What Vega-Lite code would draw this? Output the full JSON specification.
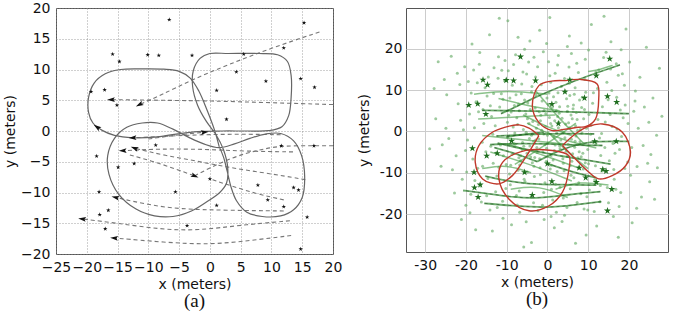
{
 "$schema": "https://vega.github.io/schema/vega-lite/v6.json",
 "padding": {"left": 2, "top": 0, "right": 5, "bottom": 0},
 "background": "white",
 "spacing": 13,
 "config": {
  "font": "DejaVu Sans",
  "view": {"stroke": "#555", "strokeWidth": 1},
  "axis": {"labelFont": "DejaVu Sans", "labelFontSize": 14, "labelColor": "#111", "titleFont": "DejaVu Sans", "titleFontSize": 14, "titleFontWeight": "normal", "titleColor": "#111", "domain": false, "ticks": false, "labelPadding": 6, "labelOverlap": false, "labelBound": false, "labelFlush": false, "titlePadding": 3},
  "title": {"font": "Liberation Serif", "fontSize": 19, "fontWeight": "normal", "orient": "bottom", "color": "#111"}
 },
 "datasets": {
  "landmarks": [
   {"x":-6.6,"y":18.1},{"x":15.3,"y":17.6},{"x":-15.8,"y":12.5},{"x":-14.7,"y":11.3},{"x":-10.1,"y":12.4},{"x":-8.3,"y":12.3},{"x":-2.9,"y":12.3},{"x":5.5,"y":12.5},{"x":12.0,"y":13.5},{"x":4.3,"y":9.6},{"x":9.1,"y":8.1},{"x":14.75,"y":8.5},{"x":17.0,"y":7.1},{"x":1.1,"y":6.6},{"x":-19.3,"y":6.4},{"x":-17.1,"y":6.7},{"x":-15.1,"y":4.2},{"x":2.7,"y":1.9},{"x":-8.8,"y":-2.3},{"x":11.6,"y":-2.4},{"x":16.9,"y":-2.4},{"x":-18.4,"y":-4.1},{"x":-14.9,"y":-5.9},{"x":-12.3,"y":-5.3},{"x":0.0,"y":-7.8},{"x":-18.0,"y":-9.9},{"x":-5.6,"y":-9.9},{"x":7.8,"y":-8.8},{"x":9.4,"y":-11.2},{"x":13.6,"y":-9.2},{"x":14.4,"y":-9.6},{"x":1.1,"y":-12.1},{"x":12.0,"y":-12.3},{"x":-16.5,"y":-12.9},{"x":-17.9,"y":-13.6},{"x":15.8,"y":-14.0},{"x":-17.0,"y":-15.9},{"x":-3.7,"y":-15.4},{"x":14.75,"y":-19.2}
  ],
  "loop": [
   {"i":1,"x":1.5,"y":-2.5},{"i":2,"x":0.7,"y":0.3},{"i":3,"x":-0.5,"y":3.5},{"i":4,"x":-1.8,"y":6.5},{"i":5,"x":-3.2,"y":8.6},{"i":6,"x":-5,"y":9.7},{"i":7,"x":-7.5,"y":10.05},{"i":8,"x":-11,"y":10.1},{"i":9,"x":-14.5,"y":10},{"i":10,"x":-17,"y":9.3},{"i":11,"x":-18.8,"y":7.8},{"i":12,"x":-19.7,"y":5.5},{"i":13,"x":-19.7,"y":3},{"i":14,"x":-19,"y":1.3},{"i":15,"x":-17.5,"y":0.1},{"i":16,"x":-15.5,"y":-0.7},{"i":17,"x":-12.5,"y":-1.1},{"i":18,"x":-9,"y":-1},{"i":19,"x":-5.5,"y":-0.5},{"i":20,"x":-2,"y":-0.1},{"i":21,"x":2,"y":0},{"i":22,"x":6,"y":0},{"i":23,"x":9.5,"y":0.05},{"i":24,"x":11.7,"y":0.7},{"i":25,"x":12.8,"y":2.5},{"i":26,"x":13.2,"y":5.5},{"i":27,"x":13.2,"y":9},{"i":28,"x":12.6,"y":11.3},{"i":29,"x":11,"y":12.4},{"i":30,"x":8,"y":12.6},{"i":31,"x":3,"y":12.6},{"i":32,"x":0,"y":12.6},{"i":33,"x":-1.6,"y":11.8},{"i":34,"x":-2.7,"y":9.8},{"i":35,"x":-2.8,"y":7.2},{"i":36,"x":-2,"y":4.2},{"i":37,"x":-0.6,"y":1.6},{"i":38,"x":1,"y":-0.6},{"i":39,"x":2.2,"y":-3},{"i":40,"x":2.9,"y":-6},{"i":41,"x":2.7,"y":-8.5},{"i":42,"x":1.6,"y":-10},{"i":43,"x":-0.5,"y":-11.5},{"i":44,"x":-3,"y":-13},{"i":45,"x":-6,"y":-13.9},{"i":46,"x":-9,"y":-13.8},{"i":47,"x":-12,"y":-12.7},{"i":48,"x":-14.8,"y":-10.3},{"i":49,"x":-16.4,"y":-7},{"i":50,"x":-16.6,"y":-4},{"i":51,"x":-15.5,"y":-1.2},{"i":52,"x":-13.5,"y":0.6},{"i":53,"x":-11,"y":1.3},{"i":54,"x":-8.5,"y":1.3},{"i":55,"x":-6,"y":0.3},{"i":56,"x":-3.5,"y":-1},{"i":57,"x":-1,"y":-2.1},{"i":58,"x":1.5,"y":-2.7},{"i":59,"x":4,"y":-2.1},{"i":60,"x":6.5,"y":-1.2},{"i":61,"x":9,"y":-0.5},{"i":62,"x":11.5,"y":-0.4},{"i":63,"x":13.6,"y":-1.6},{"i":64,"x":14.9,"y":-4},{"i":65,"x":15.4,"y":-7.5},{"i":66,"x":15,"y":-10.8},{"i":67,"x":13.6,"y":-12.8},{"i":68,"x":11.5,"y":-13.8},{"i":69,"x":8.5,"y":-13.9},{"i":70,"x":6,"y":-13.2},{"i":71,"x":4.3,"y":-11.3},{"i":72,"x":3.4,"y":-9},{"i":73,"x":2.8,"y":-6.5},{"i":74,"x":2.2,"y":-4.2},{"i":75,"x":1.5,"y":-2.5}
  ],
  "traj": [
   {"id":"T1","i":1,"x":17.8,"y":16.1},{"id":"T1","i":2,"x":10,"y":13.5},{"id":"T1","i":3,"x":3,"y":10.8},{"id":"T1","i":4,"x":-3,"y":8.3},{"id":"T1","i":5,"x":-8,"y":5.8},{"id":"T1","i":6,"x":-11.4,"y":4.3},
   {"id":"T2","i":1,"x":20,"y":4.3},{"id":"T2","i":2,"x":10,"y":4.6},{"id":"T2","i":3,"x":0,"y":4.9},{"id":"T2","i":4,"x":-8,"y":5},{"id":"T2","i":5,"x":-16,"y":5.1},
   {"id":"T3","i":1,"x":11.5,"y":-0.6},{"id":"T3","i":2,"x":5,"y":-0.5},{"id":"T3","i":3,"x":-2,"y":-0.6},{"id":"T3","i":4,"x":-8,"y":-0.9},{"id":"T3","i":5,"x":-12.5,"y":-1.1},
   {"id":"T4","i":1,"x":20,"y":-2.4},{"id":"T4","i":2,"x":16.9,"y":-2.4},{"id":"T4","i":3,"x":11.6,"y":-2.4},{"id":"T4","i":4,"x":8.9,"y":-2.9},{"id":"T4","i":5,"x":6.2,"y":-3.5},{"id":"T4","i":6,"x":3,"y":-4.6},{"id":"T4","i":7,"x":0,"y":-6},{"id":"T4","i":8,"x":-2.5,"y":-7.3},
   {"id":"T5","i":1,"x":13.5,"y":-3.4},{"id":"T5","i":2,"x":6,"y":-3.3},{"id":"T5","i":3,"x":0,"y":-3},{"id":"T5","i":4,"x":-6,"y":-2.9},{"id":"T5","i":5,"x":-10,"y":-3},{"id":"T5","i":6,"x":-14.1,"y":-3.2},
   {"id":"T6","i":1,"x":-13,"y":-3.9},{"id":"T6","i":2,"x":-9,"y":-5},{"id":"T6","i":3,"x":-5.5,"y":-6.2},{"id":"T6","i":4,"x":-2.5,"y":-7.3},
   {"id":"T7","i":1,"x":15.5,"y":-7.9},{"id":"T7","i":2,"x":8.9,"y":-6.8},{"id":"T7","i":3,"x":3.4,"y":-6},{"id":"T7","i":4,"x":-2,"y":-4.9},{"id":"T7","i":5,"x":-7.3,"y":-4},{"id":"T7","i":6,"x":-12.2,"y":-2.8},
   {"id":"T8","i":1,"x":12,"y":-11.2},{"id":"T8","i":2,"x":7.5,"y":-10.2},{"id":"T8","i":3,"x":3.4,"y":-8.9},{"id":"T8","i":4,"x":0,"y":-7.8},
   {"id":"T9","i":1,"x":12,"y":-13},{"id":"T9","i":2,"x":3,"y":-12.9},{"id":"T9","i":3,"x":-5,"y":-12.7},{"id":"T9","i":4,"x":-10,"y":-12},{"id":"T9","i":5,"x":-15.3,"y":-10.8},
   {"id":"T10","i":1,"x":13,"y":-14.6},{"id":"T10","i":2,"x":5,"y":-15.3},{"id":"T10","i":3,"x":-2,"y":-16.2},{"id":"T10","i":4,"x":-8,"y":-16},{"id":"T10","i":5,"x":-15,"y":-15},{"id":"T10","i":6,"x":-20.7,"y":-14.3},
   {"id":"T11","i":1,"x":13.2,"y":-17},{"id":"T11","i":2,"x":6.7,"y":-17.8},{"id":"T11","i":3,"x":0,"y":-18.5},{"id":"T11","i":4,"x":-7.5,"y":-18.1},{"id":"T11","i":5,"x":-15.5,"y":-17.4},
   {"id":"T12","i":1,"x":-10,"y":-1.3},{"id":"T12","i":2,"x":-5,"y":-0.6},{"id":"T12","i":3,"x":-0.9,"y":-0.2}
  ],
  "tracks": [
   {"id":"S1","i":1,"x":-17,"y":3},{"id":"S1","i":2,"x":-8,"y":3.5},{"id":"S1","i":3,"x":2,"y":4},
   {"id":"S2","i":1,"x":-16,"y":-1},{"id":"S2","i":2,"x":-6,"y":-2},{"id":"S2","i":3,"x":4,"y":-3},
   {"id":"S3","i":1,"x":-12,"y":8},{"id":"S3","i":2,"x":-4,"y":6},{"id":"S3","i":3,"x":3,"y":5},
   {"id":"S4","i":1,"x":-10,"y":-3},{"id":"S4","i":2,"x":0,"y":-6},{"id":"S4","i":3,"x":8,"y":-9},
   {"id":"S5","i":1,"x":-5,"y":2},{"id":"S5","i":2,"x":3,"y":-2},{"id":"S5","i":3,"x":12,"y":-4},
   {"id":"S6","i":1,"x":-14,"y":-5},{"id":"S6","i":2,"x":-4,"y":-8},{"id":"S6","i":3,"x":6,"y":-12},
   {"id":"S7","i":1,"x":-3,"y":10},{"id":"S7","i":2,"x":3,"y":3},{"id":"S7","i":3,"x":9,"y":-3},
   {"id":"S8","i":1,"x":-8,"y":-8},{"id":"S8","i":2,"x":0,"y":-3},{"id":"S8","i":3,"x":7,"y":2},
   {"id":"S9","i":1,"x":-18,"y":9},{"id":"S9","i":2,"x":-10,"y":10},{"id":"S9","i":3,"x":0,"y":9},
   {"id":"S10","i":1,"x":2,"y":-14},{"id":"S10","i":2,"x":8,"y":-12},{"id":"S10","i":3,"x":15,"y":-13},
   {"id":"S11","i":1,"x":-9,"y":-14},{"id":"S11","i":2,"x":-2,"y":-13},{"id":"S11","i":3,"x":5,"y":-16},
   {"id":"S12","i":1,"x":10,"y":14.5},{"id":"S12","i":2,"x":13,"y":15},{"id":"S12","i":3,"x":16,"y":16},
   {"id":"S13","i":1,"x":-16,"y":-9},{"id":"S13","i":2,"x":-10,"y":-8},{"id":"S13","i":3,"x":-4,"y":-10},
   {"id":"S14","i":1,"x":0,"y":0},{"id":"S14","i":2,"x":6,"y":-6},{"id":"S14","i":3,"x":10,"y":-9},
   {"id":"S15","i":1,"x":-6,"y":4},{"id":"S15","i":2,"x":0,"y":1},{"id":"S15","i":3,"x":6,"y":-1}
  ],
  "arrows": [
   {"x":-11.4,"y":4.3,"dir":243},{"x":-16,"y":5.1,"dir":269},{"x":-12.5,"y":-1.1,"dir":268},{"x":-14.1,"y":-3.2,"dir":268},{"x":-12.2,"y":-2.8,"dir":290},{"x":-2.5,"y":-7.3,"dir":112},{"x":-15.3,"y":-10.8,"dir":283},{"x":-20.7,"y":-14.3,"dir":277},{"x":-15.5,"y":-17.4,"dir":275},{"x":-0.9,"y":-0.2,"dir":85},{"x":-18.3,"y":0.6,"dir":305}
  ],
  "redloops": [
   {"id":"A","i":1,"x":4.5,"y":12.3},{"id":"A","i":2,"x":8,"y":12.6},{"id":"A","i":3,"x":12.2,"y":11.5},{"id":"A","i":4,"x":12.6,"y":7.9},{"id":"A","i":5,"x":11.8,"y":3},{"id":"A","i":6,"x":9.5,"y":1.2},{"id":"A","i":7,"x":7.7,"y":1},{"id":"A","i":8,"x":4,"y":0.5},{"id":"A","i":9,"x":1.2,"y":0.2},{"id":"A","i":10,"x":-2.1,"y":2.2},{"id":"A","i":11,"x":-3.7,"y":6.3},{"id":"A","i":12,"x":-2.1,"y":11.1},{"id":"A","i":13,"x":1,"y":12.2},{"id":"A","i":14,"x":4.5,"y":12.3},
   {"id":"B","i":1,"x":3.7,"y":-3.4},{"id":"B","i":2,"x":7,"y":-0.5},{"id":"B","i":3,"x":10,"y":1.2},{"id":"B","i":4,"x":13.5,"y":1.8},{"id":"B","i":5,"x":18.4,"y":-0.2},{"id":"B","i":6,"x":20.4,"y":-5},{"id":"B","i":7,"x":19.2,"y":-8.3},{"id":"B","i":8,"x":15.9,"y":-10.7},{"id":"B","i":9,"x":12.6,"y":-11.5},{"id":"B","i":10,"x":10.2,"y":-9.9},{"id":"B","i":11,"x":6.9,"y":-6.7},{"id":"B","i":12,"x":3.7,"y":-3.4},
   {"id":"C","i":1,"x":-2.1,"y":-1},{"id":"C","i":2,"x":-4.5,"y":0.8},{"id":"C","i":3,"x":-7,"y":1.6},{"id":"C","i":4,"x":-10.5,"y":1},{"id":"C","i":5,"x":-13.5,"y":-0.2},{"id":"C","i":6,"x":-16.8,"y":-3.4},{"id":"C","i":7,"x":-17.7,"y":-7.5},{"id":"C","i":8,"x":-15.9,"y":-11.5},{"id":"C","i":9,"x":-11.9,"y":-12.7},{"id":"C","i":10,"x":-8.6,"y":-10.7},{"id":"C","i":11,"x":-5.5,"y":-6.5},{"id":"C","i":12,"x":-2.1,"y":-1},
   {"id":"D","i":1,"x":1.2,"y":-4.6},{"id":"D","i":2,"x":-5.3,"y":-4.6},{"id":"D","i":3,"x":-11,"y":-7.5},{"id":"D","i":4,"x":-11.9,"y":-11.5},{"id":"D","i":5,"x":-9.4,"y":-16.4},{"id":"D","i":6,"x":-4.5,"y":-19.2},{"id":"D","i":7,"x":0.4,"y":-18},{"id":"D","i":8,"x":3.7,"y":-14.7},{"id":"D","i":9,"x":5.3,"y":-9.1},{"id":"D","i":10,"x":5.3,"y":-5.9},{"id":"D","i":11,"x":1.2,"y":-4.6}
  ],
  "cloud": [
   {"x":-9.2,"y":8.1},{"x":-7.5,"y":3.3},{"x":-6.1,"y":-2.7},{"x":-4.8,"y":6.9},{"x":-3.3,"y":-8.4},{"x":-2.2,"y":1.7},{"x":-1.1,"y":-4.9},{"x":0.4,"y":9.3},{"x":1.6,"y":-1.2},{"x":2.9,"y":4.4},{"x":3.8,"y":-6.6},{"x":5.2,"y":2.1},{"x":6.7,"y":-3.8},{"x":7.9,"y":7.6},{"x":8.8,"y":-9.1},{"x":9.6,"y":0.8},
   {"x":-8.7,"y":-5.6},{"x":-7.2,"y":-9.4},{"x":-5.9,"y":0.5},{"x":-4.1,"y":-6.2},{"x":-2.8,"y":8.8},{"x":-1.6,"y":3.9},{"x":-0.3,"y":-7.3},{"x":1.2,"y":5.8},{"x":2.4,"y":-9.7},{"x":3.5,"y":0.3},{"x":4.7,"y":7.9},{"x":5.9,"y":-1.9},{"x":7.1,"y":4.6},{"x":8.3,"y":-6.1},{"x":9.4,"y":9.5},
   {"x":-9.8,"y":-1.4},{"x":-8.1,"y":6.3},{"x":-6.6,"y":-7.1},{"x":-5.3,"y":4.2},{"x":-3.9,"y":-0.9},{"x":-2.5,"y":-5.1},{"x":-1.3,"y":7.4},{"x":0.1,"y":-2.8},{"x":1.8,"y":2.6},{"x":3.1,"y":-4.2},{"x":4.4,"y":9.8},{"x":5.6,"y":-8.3},{"x":6.9,"y":1.4},{"x":8.0,"y":-2.5},{"x":9.1,"y":5.3},
   {"x":-9.5,"y":3.9},{"x":-7.9,"y":-3.1},{"x":-6.4,"y":9.1},{"x":-4.9,"y":-9.8},{"x":-3.6,"y":2.4},{"x":-2.1,"y":-1.8},{"x":-0.8,"y":5.1},{"x":0.7,"y":-9.1},{"x":2.1,"y":7.1},{"x":3.3,"y":-2.1},{"x":4.9,"y":4.9},{"x":6.2,"y":-5.4},{"x":7.4,"y":0.2},{"x":8.6,"y":8.3},{"x":9.9,"y":-4.4},
   {"x":-8.4,"y":1.1},{"x":-7.0,"y":-6.4},{"x":-5.6,"y":7.6},{"x":-4.3,"y":-3.5},{"x":-3.0,"y":5.7},{"x":-1.8,"y":-8.8},{"x":-0.5,"y":1.2},{"x":0.9,"y":-5.8},{"x":2.6,"y":9.4},{"x":3.9,"y":-7.7},{"x":5.4,"y":0.9},{"x":6.4,"y":6.4},{"x":7.7,"y":-8.7},{"x":8.9,"y":3.1},
   {"x":-9.0,"y":-8.2},{"x":-6.9,"y":5.0},{"x":-5.0,"y":-5.3},{"x":-3.4,"y":-2.4},{"x":-2.0,"y":4.8},{"x":-0.9,"y":-0.6},{"x":0.5,"y":3.4},{"x":1.4,"y":-6.9},{"x":2.7,"y":0.9},{"x":4.1,"y":-9.5},{"x":5.0,"y":6.1},{"x":6.0,"y":-7.2},{"x":7.3,"y":2.9},{"x":8.5,"y":-0.4},
   {"x":-7.7,"y":8.9},{"x":-5.2,"y":-0.2},{"x":-3.7,"y":-7.6},{"x":-1.4,"y":0.3},{"x":0.2,"y":6.6},{"x":1.9,"y":-3.3},{"x":3.6,"y":3.2},{"x":4.6,"y":-4.8},{"x":6.6,"y":9.0},{"x":7.8,"y":-4.9},{"x":9.3,"y":-7.6},
   {"x":-8.9,"y":4.7},{"x":-6.2,"y":-4.4},{"x":-4.5,"y":1.9},{"x":-2.6,"y":-3.9},{"x":-0.2,"y":-4.1},{"x":1.1,"y":1.3},{"x":2.3,"y":-0.4},{"x":3.0,"y":6.0},{"x":4.3,"y":-1.5},{"x":5.8,"y":4.0},{"x":7.0,"y":-1.1},
   {"x":-19.1,"y":4.2},{"x":-18.3,"y":-6.7},{"x":-17.2,"y":11.8},{"x":-16.4,"y":-13.2},{"x":-15.6,"y":1.9},{"x":-14.8,"y":8.6},{"x":-13.9,"y":-3.6},{"x":-13.1,"y":15.4},{"x":-12.4,"y":-10.8},{"x":-11.7,"y":5.9},{"x":-11.0,"y":-16.9},{"x":-10.5,"y":12.3},
   {"x":10.3,"y":-14.2},{"x":11.1,"y":6.8},{"x":11.9,"y":-3.0},{"x":12.6,"y":14.9},{"x":13.4,"y":-9.6},{"x":14.2,"y":2.3},{"x":15.0,"y":-17.3},{"x":15.8,"y":9.9},{"x":16.6,"y":-5.3},{"x":17.4,"y":13.6},{"x":18.2,"y":-1.2},{"x":19.1,"y":6.4},
   {"x":-9.6,"y":14.7},{"x":-7.8,"y":18.6},{"x":-6.3,"y":11.5},{"x":-4.6,"y":16.8},{"x":-2.9,"y":13.2},{"x":-1.0,"y":19.3},{"x":0.8,"y":11.9},{"x":2.5,"y":16.1},{"x":4.2,"y":12.8},{"x":5.9,"y":18.9},{"x":7.6,"y":14.3},{"x":9.3,"y":17.5},
   {"x":-9.1,"y":-12.9},{"x":-7.4,"y":-17.8},{"x":-5.7,"y":-11.6},{"x":-4.0,"y":-15.9},{"x":-2.3,"y":-19.2},{"x":-0.6,"y":-12.4},{"x":1.3,"y":-16.6},{"x":3.1,"y":-13.5},{"x":4.8,"y":-18.4},{"x":6.5,"y":-11.2},{"x":8.2,"y":-15.1},{"x":9.9,"y":-19.0},
   {"x":-19.6,"y":-2.1},{"x":-18.7,"y":9.3},{"x":-17.8,"y":-11.9},{"x":-16.9,"y":4.8},{"x":-15.9,"y":-8.4},{"x":-14.5,"y":13.2},{"x":-13.4,"y":-0.7},{"x":-12.7,"y":-14.6},{"x":-11.3,"y":9.1},{"x":-10.8,"y":-5.9},
   {"x":10.7,"y":1.5},{"x":11.6,"y":-11.7},{"x":12.3,"y":10.4},{"x":13.1,"y":-5.8},{"x":13.8,"y":17.9},{"x":14.7,"y":-13.6},{"x":15.4,"y":4.1},{"x":16.3,"y":-9.2},{"x":17.1,"y":0.6},{"x":18.0,"y":-14.8},{"x":18.9,"y":11.2},{"x":19.7,"y":-7.4},
   {"x":-8.3,"y":16.2},{"x":-3.8,"y":10.9},{"x":1.9,"y":14.1},{"x":6.8,"y":10.6},{"x":-6.9,"y":-14.4},{"x":-1.7,"y":-10.5},{"x":2.2,"y":-19.6},{"x":7.3,"y":-17.2},
   {"x":-18.1,"y":14.9},{"x":-16.2,"y":-17.1},{"x":16.9,"y":16.4},{"x":17.6,"y":-18.2},{"x":-14.1,"y":-19.0},{"x":14.4,"y":19.2},{"x":-12.0,"y":18.1},{"x":11.5,"y":-19.4},
   {"x":-19.8,"y":-9.8},{"x":-17.5,"y":7.2},{"x":-15.1,"y":-4.9},{"x":-13.7,"y":3.6},{"x":-11.9,"y":-8.7},{"x":10.1,"y":-7.8},{"x":12.8,"y":-1.6},{"x":14.9,"y":7.7},{"x":16.1,"y":-2.9},{"x":18.6,"y":3.3},
   {"x":-5.1,"y":13.9},{"x":0.3,"y":16.9},{"x":5.3,"y":15.6},{"x":-3.4,"y":-17.3},{"x":1.0,"y":-14.0},{"x":5.6,"y":-13.9},
   {"x":-27.4,"y":3.1},{"x":-26.1,"y":-8.4},{"x":-25.3,"y":12.6},{"x":-24.2,"y":-1.7},{"x":-23.6,"y":18.2},{"x":-22.8,"y":-14.9},{"x":-21.9,"y":6.7},{"x":-21.1,"y":-21.3},{"x":-20.6,"y":0.4},{"x":-20.3,"y":15.7},
   {"x":20.4,"y":-10.6},{"x":21.2,"y":4.9},{"x":21.9,"y":-18.6},{"x":22.7,"y":13.1},{"x":23.5,"y":-3.4},{"x":24.3,"y":20.4},{"x":25.1,"y":-12.2},{"x":25.9,"y":8.1},{"x":26.8,"y":-0.9},{"x":27.5,"y":15.3},
   {"x":-14.2,"y":23.4},{"x":-9.7,"y":26.8},{"x":-4.3,"y":21.9},{"x":0.6,"y":27.6},{"x":5.4,"y":23.1},{"x":10.8,"y":25.9},{"x":15.6,"y":21.7},{"x":-18.5,"y":21.2},{"x":19.3,"y":24.8},{"x":-1.9,"y":24.5},
   {"x":-13.5,"y":-24.1},{"x":-8.8,"y":-22.6},{"x":-3.9,"y":-26.9},{"x":1.7,"y":-23.3},{"x":6.9,"y":-27.1},{"x":12.1,"y":-22.9},{"x":17.4,"y":-25.6},{"x":-17.6,"y":-23.8},{"x":20.8,"y":-22.1},{"x":-0.8,"y":-21.3},
   {"x":-22.4,"y":-5.9},{"x":-24.7,"y":8.9},{"x":-21.5,"y":11.4},{"x":22.3,"y":0.8},{"x":24.6,"y":-7.7},{"x":21.6,"y":9.8},{"x":-20.9,"y":-11.6},{"x":23.1,"y":-15.9},{"x":-7.2,"y":22.8},{"x":8.3,"y":21.4},{"x":3.6,"y":-21.8},{"x":-10.9,"y":-21.0},
   {"x":-28.9,"y":-4.2},{"x":-26.8,"y":16.9},{"x":28.1,"y":3.7},{"x":26.3,"y":-16.4},{"x":-11.8,"y":27.4},{"x":13.9,"y":27.9},{"x":-5.8,"y":-28.0},{"x":9.5,"y":-25.1},
   {"x":-21.3,"y":2.7},{"x":-20.1,"y":-4.6},{"x":-19.4,"y":12.1},{"x":-18.8,"y":-15.2},{"x":-17.9,"y":0.9},{"x":-17.1,"y":-8.9},{"x":-16.7,"y":16.3},{"x":-16.0,"y":-2.6},{"x":-15.3,"y":10.6},{"x":-14.6,"y":-11.4},{"x":-14.0,"y":6.2},{"x":-13.3,"y":-7.7},{"x":-12.8,"y":1.4},{"x":-12.1,"y":12.9},{"x":-11.5,"y":-3.3},{"x":-10.9,"y":7.8},{"x":-10.2,"y":-13.8},{"x":-9.8,"y":2.2},{"x":-9.3,"y":-10.3},{"x":-8.6,"y":11.2},{"x":-8.0,"y":-0.4},{"x":-7.6,"y":-15.5},{"x":-7.1,"y":6.6},{"x":-6.5,"y":-5.9},{"x":-6.0,"y":14.4},{"x":-5.5,"y":-12.1},{"x":-4.9,"y":3.1},{"x":-4.4,"y":-1.7},{"x":-3.9,"y":9.6},{"x":-3.2,"y":-10.9},{"x":-2.7,"y":0.8},{"x":-2.4,"y":15.7},{"x":-1.9,"y":-6.6},{"x":-1.5,"y":11.3},{"x":-0.9,"y":-14.8},{"x":-0.4,"y":4.3},{"x":0.0,"y":-0.9},{"x":0.6,"y":13.5},{"x":1.0,"y":-8.2},{"x":1.5,"y":8.4},{"x":2.0,"y":-12.8},{"x":2.5,"y":3.6},{"x":3.0,"y":-3.5},{"x":3.4,"y":10.9},{"x":3.9,"y":-16.1},{"x":4.5,"y":1.8},{"x":4.9,"y":-6.0},{"x":5.4,"y":11.7},{"x":5.8,"y":-10.6},{"x":6.3,"y":5.5},{"x":6.8,"y":-2.4},{"x":7.2,"y":16.5},{"x":7.7,"y":-12.4},{"x":8.1,"y":0.5},{"x":8.7,"y":-5.3},{"x":9.2,"y":12.6},{"x":9.7,"y":-15.8},{"x":10.2,"y":4.1},{"x":10.6,"y":-0.7},{"x":11.3,"y":9.4},{"x":11.8,"y":-8.3},{"x":12.4,"y":2.9},{"x":13.0,"y":-13.1},{"x":13.5,"y":6.0},{"x":14.1,"y":-3.9},{"x":14.6,"y":11.9},{"x":15.2,"y":-7.1},{"x":15.9,"y":1.2},{"x":16.4,"y":-11.6},{"x":17.0,"y":8.3},{"x":17.7,"y":-4.4},{"x":18.4,"y":14.0},{"x":19.0,"y":-9.0},{"x":19.8,"y":1.9},{"x":20.7,"y":-3.9},{"x":21.5,"y":7.4},
   {"x":-12.3,"y":-18.4},{"x":-6.8,"y":-19.6},{"x":-1.2,"y":-17.9},{"x":4.2,"y":-20.3},{"x":9.0,"y":-18.8},{"x":-10.4,"y":17.2},{"x":-5.6,"y":19.9},{"x":-0.2,"y":21.3},{"x":4.9,"y":20.6},{"x":10.1,"y":19.7},
   {"x":-7.3,"y":1.7},{"x":-5.8,"y":-3.6},{"x":-4.2,"y":5.3},{"x":-2.9,"y":-2.1},{"x":-1.7,"y":2.6},{"x":-0.6,"y":-3.2},{"x":0.8,"y":1.9},{"x":1.7,"y":-4.6},{"x":2.8,"y":2.3},{"x":4.0,"y":-0.2},{"x":5.1,"y":-3.1},{"x":6.1,"y":3.1},{"x":7.5,"y":-6.4},{"x":-8.2,"y":-2.9},{"x":-6.8,"y":-8.1},{"x":-3.1,"y":-6.3},{"x":-0.1,"y":8.1},{"x":2.2,"y":5.0},{"x":5.5,"y":8.7},{"x":8.4,"y":5.8},
   {"x":-23.3,"y":-9.3},{"x":-22.1,"y":14.1},{"x":-25.8,"y":-3.2},{"x":-20.0,"y":-17.9},{"x":23.8,"y":5.9},{"x":22.0,"y":-8.5},{"x":20.2,"y":16.8},{"x":25.4,"y":-5.6},{"x":-16.6,"y":19.1},{"x":16.2,"y":-20.6},{"x":-19.0,"y":-19.7},{"x":18.1,"y":19.8},
   {"x":-15.8,"y":5.3},{"x":-14.9,"y":-15.6},{"x":-13.2,"y":9.2},{"x":-12.6,"y":-5.2},{"x":-11.2,"y":14.8},{"x":-10.1,"y":-8.0},{"x":11.9,"y":14.4},{"x":12.9,"y":-17.0},{"x":13.3,"y":-0.5},{"x":15.5,"y":15.1},{"x":16.8,"y":-14.0},{"x":17.9,"y":5.2},
   {"x":-3.3,"y":18.0},{"x":2.7,"y":18.4},{"x":-5.2,"y":-21.9},{"x":0.9,"y":-20.6},{"x":-24.9,"y":0.8},{"x":24.9,"y":2.2},{"x":-27.8,"y":10.4},{"x":27.0,"y":-8.8}
  ]
 },
 "hconcat": [
  {
   "width": 277, "height": 246,
   "title": {"text": "(a)", "orient": "bottom", "offset": 1},
   "encoding": {
    "x": {"field": "x", "type": "quantitative", "scale": {"domain": [-25, 20], "nice": false, "zero": false},
          "axis": {"title": "x (meters)", "values": [-25,-20,-15,-10,-5,0,5,10,15,20], "grid": true, "gridColor": "#888", "gridDash": [1,2], "gridWidth": 0.8}},
    "y": {"field": "y", "type": "quantitative", "scale": {"domain": [-20, 20], "nice": false, "zero": false},
          "axis": {"title": "y (meters)", "values": [-20,-15,-10,-5,0,5,10,15,20], "grid": true, "gridColor": "#888", "gridDash": [1,2], "gridWidth": 0.8}}
   },
   "layer": [
    {"data": {"name": "traj"}, "mark": {"type": "line", "strokeDash": [4,3], "color": "#777", "strokeWidth": 1.1, "interpolate": "basis"},
     "encoding": {"detail": {"field": "id"}, "order": {"field": "i", "type": "quantitative"}}},
    {"data": {"name": "loop"}, "mark": {"type": "line", "color": "#666", "strokeWidth": 1.2, "interpolate": "catmull-rom"},
     "encoding": {"order": {"field": "i", "type": "quantitative"}}},
    {"data": {"name": "landmarks"}, "mark": {"type": "point", "shape": "M0,-1L0.2245,-0.309L0.951,-0.309L0.363,0.118L0.588,0.809L0,0.382L-0.588,0.809L-0.363,0.118L-0.951,-0.309L-0.2245,-0.309Z", "filled": true, "color": "#111", "size": 22, "opacity": 1},
     "encoding": {}},
    {"data": {"name": "arrows"}, "mark": {"type": "point", "shape": "M0,-1L0.55,0.8L0,0.45L-0.55,0.8Z", "filled": true, "color": "#111", "size": 75, "opacity": 1},
     "encoding": {"angle": {"field": "dir", "type": "quantitative", "scale": null}}}
   ]
  },
  {
   "width": 262, "height": 244,
   "title": {"text": "(b)", "orient": "bottom", "offset": 1},
   "encoding": {
    "x": {"field": "x", "type": "quantitative", "scale": {"domain": [-34.7, 29.6], "nice": false, "zero": false},
          "axis": {"title": "x (meters)", "values": [-30,-20,-10,0,10,20], "grid": true, "gridColor": "#ccc", "gridWidth": 1, "labelExpr": "replace(datum.label, '\u2212', '-')"}},
    "y": {"field": "y", "type": "quantitative", "scale": {"domain": [-29.2, 29.9], "nice": false, "zero": false},
          "axis": {"title": "y (meters)", "values": [-20,-10,0,10,20], "grid": true, "gridColor": "#ccc", "gridWidth": 1, "labelPadding": 4, "titlePadding": 8, "labelExpr": "replace(datum.label, '\u2212', '-')"}}
   },
   "layer": [
    {"data": {"name": "cloud"}, "mark": {"type": "point", "shape": "circle", "filled": true, "color": "#6aae6a", "size": 9, "opacity": 0.65},
     "encoding": {}},
    {"data": {"name": "tracks"}, "mark": {"type": "line", "color": "#3d9a3d", "strokeWidth": 1.5, "opacity": 0.6, "interpolate": "basis"},
     "encoding": {"detail": {"field": "id"}, "order": {"field": "i", "type": "quantitative"}}},
    {"data": {"name": "traj"}, "mark": {"type": "line", "color": "#2f8a2f", "strokeWidth": 1.8, "opacity": 0.7, "interpolate": "basis"},
     "encoding": {"detail": {"field": "id"}, "order": {"field": "i", "type": "quantitative"}}},
    {"data": {"name": "traj"}, "mark": {"type": "line", "color": "#1d3d1d", "strokeWidth": 0.8, "strokeDash": [3,3], "opacity": 0.6, "interpolate": "basis"},
     "encoding": {"detail": {"field": "id"}, "order": {"field": "i", "type": "quantitative"}}},
    {"data": {"name": "redloops"}, "mark": {"type": "line", "color": "#c0392b", "strokeWidth": 1.4, "interpolate": "catmull-rom"},
     "encoding": {"detail": {"field": "id"}, "order": {"field": "i", "type": "quantitative"}}},
    {"data": {"name": "landmarks"}, "mark": {"type": "point", "shape": "M0,-1L0.2245,-0.309L0.951,-0.309L0.363,0.118L0.588,0.809L0,0.382L-0.588,0.809L-0.363,0.118L-0.951,-0.309L-0.2245,-0.309Z", "filled": true, "color": "#1f6e1f", "size": 55, "opacity": 1},
     "encoding": {}}
   ]
  }
 ]
}
